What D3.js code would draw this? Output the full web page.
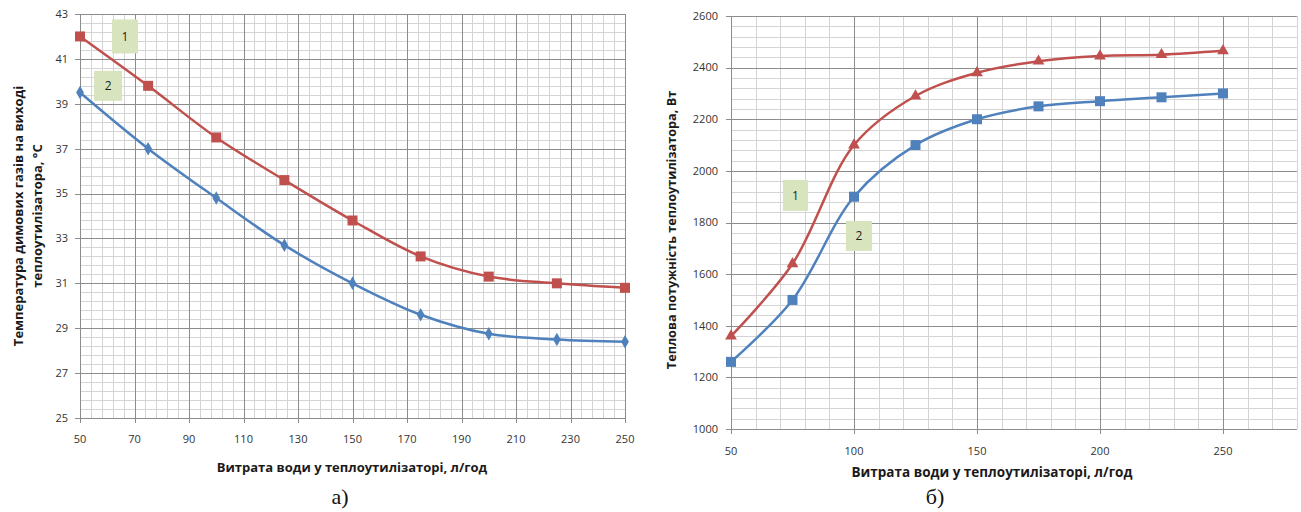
<!DOCTYPE html>
<html><head><meta charset="utf-8">
<script src="https://cdn.jsdelivr.net/npm/d3@7"></script>
<style>
html,body{margin:0;padding:0;background:#fff;}
svg{display:block;}
</style></head>
<body>
<svg id="c" width="1301" height="512" font-family="'Open Sans','DejaVu Sans',sans-serif"></svg>
<script>
// ---------- data ----------
const flow = [50, 75, 100, 125, 150, 175, 200, 225, 250];
// chart a) gas outlet temperature, °C
const tempCurve1 = [42.0, 39.8, 37.5, 35.6, 33.8, 32.2, 31.3, 31.0, 30.8];
const tempCurve2 = [39.5, 37.0, 34.8, 32.7, 31.0, 29.6, 28.75, 28.5, 28.4];
// chart б) heat power, W
const powerCurve1 = [1360, 1640, 2100, 2290, 2380, 2425, 2445, 2450, 2465];
const powerCurve2 = [1260, 1500, 1900, 2100, 2200, 2250, 2270, 2285, 2300];

const leftXTicks = [50, 70, 90, 110, 130, 150, 170, 190, 210, 230, 250];
const leftYTicks = [25, 27, 29, 31, 33, 35, 37, 39, 41, 43];
const rightXTicks = [50, 100, 150, 200, 250];
const rightYTicks = [1000, 1200, 1400, 1600, 1800, 2000, 2200, 2400, 2600];

const xTitle = "Витрата води у теплоутилізаторі, л/год";
const leftYTitle = ["Температура димових газів на виході", "теплоутилізатора, °С"];
const rightYTitle = "Теплова потужність теплоутилізатора, Вт";
const captions = ["а)", "б)"];
const curveLabels = ["1", "2"];
// label box anchors in data coordinates
const leftLabelPos = [[66.5, 42.0], [60.3, 39.8]];
const rightLabelPos = [[76.2, 1905], [102, 1748]];

const RED = "#c0504d", BLUE = "#4f81bd";
const MAJOR = "#8c8c8c", MINOR = "#d4d4d4", LABELBG = "#d7e4bd";
const SERIF = "'Liberation Serif','Times New Roman',serif";

const svg = d3.select("#c");

function grid(g, x, y, xMinor, xMajor, yMinor, yMajor) {
  const [x0, x1] = x.range(), [y0, y1] = y.range();
  const r = v => Math.round(v) + 0.5;
  g.selectAll(".vmin").data(xMinor).join("line").attr("class", "vmin")
    .attr("x1", d => r(x(d))).attr("x2", d => r(x(d)))
    .attr("y1", y0).attr("y2", y1).attr("stroke", MINOR).attr("stroke-width", 1);
  g.selectAll(".hmin").data(yMinor).join("line").attr("class", "hmin")
    .attr("y1", d => r(y(d))).attr("y2", d => r(y(d)))
    .attr("x1", x0).attr("x2", x1).attr("stroke", MINOR).attr("stroke-width", 1);
  g.selectAll(".vmaj").data(xMajor).join("line").attr("class", "vmaj")
    .attr("x1", d => r(x(d))).attr("x2", d => r(x(d)))
    .attr("y1", y0).attr("y2", y1).attr("stroke", MAJOR).attr("stroke-width", 1);
  g.selectAll(".hmaj").data(yMajor).join("line").attr("class", "hmaj")
    .attr("y1", d => r(y(d))).attr("y2", d => r(y(d)))
    .attr("x1", x0).attr("x2", x1).attr("stroke", MAJOR).attr("stroke-width", 1);
}

function axes(g, x, y, xTicks, yTicks, xLabY, yLabX) {
  const [x0, x1] = x.range(), [y0, y1] = y.range();
  const r = v => Math.round(v) + 0.5;
  g.append("line").attr("x1", r(x0)).attr("x2", r(x0)).attr("y1", y0 + 5).attr("y2", y1).attr("stroke", MAJOR);
  g.append("line").attr("x1", x0 - 5).attr("x2", x1).attr("y1", r(y0)).attr("y2", r(y0)).attr("stroke", MAJOR);
  g.selectAll(".yt").data(yTicks).join("line").attr("class", "yt")
    .attr("x1", x0 - 5).attr("x2", x0).attr("y1", d => r(y(d))).attr("y2", d => r(y(d))).attr("stroke", MAJOR);
  g.selectAll(".xt").data(xTicks).join("line").attr("class", "xt")
    .attr("y1", y0).attr("y2", y0 + 5).attr("x1", d => r(x(d))).attr("x2", d => r(x(d))).attr("stroke", MAJOR);
  g.selectAll(".yl").data(yTicks).join("text").attr("class", "yl")
    .attr("x", yLabX).attr("y", d => y(d)).attr("dy", "0.35em")
    .attr("text-anchor", "end").attr("font-size", 11).attr("fill", "#333").text(d => d);
  g.selectAll(".xl").data(xTicks).join("text").attr("class", "xl")
    .attr("x", d => x(d)).attr("y", xLabY).attr("dy", "0.35em")
    .attr("text-anchor", "middle").attr("font-size", 11).attr("fill", "#333").text(d => d);
}

function series(g, x, y, vals, color, shape, size) {
  const line = d3.line().x((d, i) => x(flow[i])).y(d => y(d)).curve(d3.curveCatmullRom.alpha(0.5));
  g.append("path").attr("d", line(vals)).attr("fill", "none").attr("stroke", color).attr("stroke-width", 2.5);
  const sym = d3.symbol().type(shape).size(size);
  g.selectAll(null).data(vals).join("path")
    .attr("transform", (d, i) => `translate(${x(flow[i])},${y(d)})`)
    .attr("d", sym).attr("fill", color);
}

function labels(g, x, y, pos, sizes) {
  pos.forEach((p, i) => {
    const cx = x(p[0]), cy = y(p[1]);
    const [w, h] = sizes[i];
    g.append("rect").attr("x", cx - w / 2).attr("y", cy - h / 2).attr("width", w).attr("height", h).attr("fill", LABELBG);
    g.append("text").attr("x", cx).attr("y", cy).attr("dy", "0.35em").attr("text-anchor", "middle")
      .attr("font-size", 12).attr("fill", "#222").text(curveLabels[i]);
  });
}

// ---------- chart a) ----------
{
  const x = d3.scaleLinear().domain([50, 250]).range([80, 625]);
  const y = d3.scaleLinear().domain([25, 43]).range([418, 14]);
  const g = svg.append("g");
  grid(g, x, y, d3.range(50, 250.1, 4), leftXTicks, d3.range(25, 43.01, 0.4), leftYTicks);
  axes(g, x, y, leftXTicks, leftYTicks, 439, 68);
  series(g, x, y, tempCurve2, BLUE, d3.symbolDiamond, 52);
  series(g, x, y, tempCurve1, RED, d3.symbolSquare, 100);
  labels(g, x, y, leftLabelPos, [[26, 34], [28, 30]]);
  g.append("text").attr("x", 352).attr("y", 467).attr("dy", "0.35em")
    .attr("text-anchor", "middle").attr("font-size", 13).attr("font-weight", "bold").attr("fill", "#1a1a1a").text(xTitle);
  leftYTitle.forEach((t, i) => {
    g.append("text").attr("transform", `translate(${18 + i * 19},216) rotate(-90)`).attr("dy", "0.35em")
      .attr("text-anchor", "middle").attr("font-size", 13).attr("font-weight", "bold").attr("fill", "#1a1a1a").text(t);
  });
  g.append("text").attr("x", 340).attr("y", 504).attr("text-anchor", "middle")
    .attr("font-family", SERIF).attr("font-size", 22).attr("fill", "#111").text(captions[0]);
}

// ---------- chart б) ----------
{
  const x = d3.scaleLinear().domain([50, 280]).range([731, 731 + 230 * 2.46]);
  const y = d3.scaleLinear().domain([1000, 2600]).range([429, 16]);
  const g = svg.append("g");
  grid(g, x, y, d3.range(50, 280.1, 10), rightXTicks, d3.range(1000, 2600.1, 40), rightYTicks);
  axes(g, x, y, rightXTicks, rightYTicks, 451, 718);
  series(g, x, y, powerCurve2, BLUE, d3.symbolSquare, 100);
  series(g, x, y, powerCurve1, RED, d3.symbolTriangle, 60);
  labels(g, x, y, rightLabelPos, [[25, 31], [26, 30]]);
  g.append("text").attr("x", 992).attr("y", 472).attr("dy", "0.35em")
    .attr("text-anchor", "middle").attr("font-size", 13.5).attr("font-weight", "bold").attr("fill", "#1a1a1a").text(xTitle);
  g.append("text").attr("transform", `translate(672,230) rotate(-90)`).attr("dy", "0.35em")
    .attr("text-anchor", "middle").attr("font-size", 12.7).attr("font-weight", "bold").attr("fill", "#1a1a1a").text(rightYTitle);
  g.append("text").attr("x", 935).attr("y", 504).attr("text-anchor", "middle")
    .attr("font-family", SERIF).attr("font-size", 22).attr("fill", "#111").text(captions[1]);
}
</script>
</body></html>
